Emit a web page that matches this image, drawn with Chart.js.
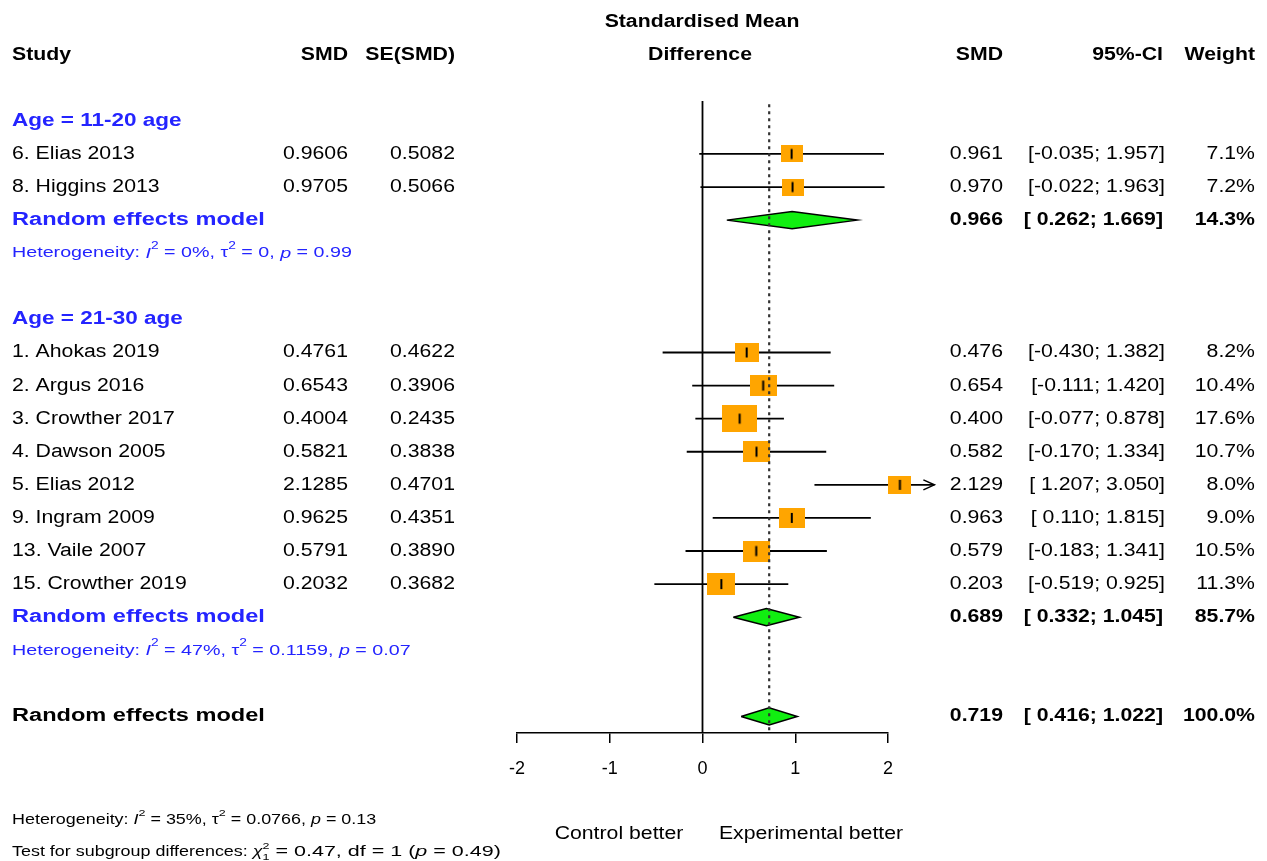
<!DOCTYPE html>
<html>
<head>
<meta charset="utf-8">
<script src="https://cdn.jsdelivr.net/npm/chart.js@4.4.1/dist/chart.umd.min.js"></script>
<style>
  html, body { margin: 0; padding: 0; background: #fff; }
  #wrap { width: 1267px; height: 861px; }
</style>
</head>
<body>
<div id="wrap"><canvas id="forest" width="1267" height="861"></canvas></div>
<script>
// study data
const groupNames = ['Age = 11-20 age', 'Age = 21-30 age'];
const studyGroup = [0, 0, 1, 1, 1, 1, 1, 1, 1, 1];
const studies = ['6. Elias 2013', '8. Higgins 2013', '1. Ahokas 2019', '2. Argus 2016', '3. Crowther 2017',
                 '4. Dawson 2005', '5. Elias 2012', '9. Ingram 2009', '13. Vaile 2007', '15. Crowther 2019'];
const smd = [0.9606, 0.9705, 0.4761, 0.6543, 0.4004, 0.5821, 2.1285, 0.9625, 0.5791, 0.2032];
const seSmd = [0.5082, 0.5066, 0.4622, 0.3906, 0.2435, 0.3838, 0.4701, 0.4351, 0.3890, 0.3682];
const smdRounded = [0.961, 0.970, 0.476, 0.654, 0.400, 0.582, 2.129, 0.963, 0.579, 0.203];
const ciLow = [-0.035, -0.022, -0.430, -0.111, -0.077, -0.170, 1.207, 0.110, -0.183, -0.519];
const ciHigh = [1.957, 1.963, 1.382, 1.420, 0.878, 1.334, 3.050, 1.815, 1.341, 0.925];
const weights = [7.1, 7.2, 8.2, 10.4, 17.6, 10.7, 8.0, 9.0, 10.5, 11.3];

// subgroup pooled results
const groupSmd = [0.966, 0.689];
const groupLow = [0.262, 0.332];
const groupHigh = [1.669, 1.045];
const groupWeight = [14.3, 85.7];
const groupI2 = ['0%', '47%'];
const groupTau2 = ['0', '0.1159'];
const groupP = ['0.99', '0.07'];

// overall
const overallSmd = 0.719, overallLow = 0.416, overallHigh = 1.022, overallWeight = 100.0;
const overallI2 = '35%', overallTau2 = '0.0766', overallP = '0.13';
const subgroupChi2 = '0.47', subgroupDf = '1', subgroupP = '0.49';

const xTicks = [-2, -1, 0, 1, 2];
const xLimit = 2.5;

// row layout
const studyRow = [], groupRow = [], labelRow = [], hetRow = [];
let r = 2;
groupNames.forEach((g, gi) => {
  labelRow[gi] = r++;
  studies.forEach((s, i) => { if (studyGroup[i] === gi) studyRow[i] = r++; });
  groupRow[gi] = r++;
  hetRow[gi] = r++;
  r++;
});
const overallRow = r;
const topRow = 1.4;
const axisRow = overallRow + 0.5;

const FONT = '"Liberation Sans", Arial, sans-serif';
const SX = 1.18;
const BLUE = '#2424ff';

function box(w) {
  const h = Math.round(6.5 * Math.sqrt(w));
  const c = document.createElement('canvas');
  c.width = Math.round(h * 1.28);
  c.height = h;
  const g = c.getContext('2d');
  g.fillStyle = '#ffa500';
  g.fillRect(0, 0, c.width, c.height);
  g.fillStyle = '#000';
  g.fillRect(c.width / 2 - 1, h / 2 - 5, 2, 10);
  return c;
}
const boxes = weights.map(box);

function diamond(est, lo, hi, row) {
  const d = 0.26;
  return [{x: lo, y: row}, {x: est, y: row - d}, {x: hi, y: row}, {x: est, y: row + d}, {x: lo, y: row}];
}

const datasets = [];
// dotted line at overall estimate (on top)
datasets.push({
  data: [{x: overallSmd, y: topRow + 0.1}, {x: overallSmd, y: axisRow}],
  showLine: true, borderColor: '#333', borderWidth: 2.2, borderDash: [3, 4], pointRadius: 0, clip: false
});
// study squares
datasets.push({
  data: smd.map((v, i) => ({x: v, y: studyRow[i]})),
  pointStyle: ctx => boxes[ctx.dataIndex], pointRadius: 20, clip: false
});
// diamonds
groupSmd.forEach((v, gi) => {
  datasets.push({
    data: diamond(v, groupLow[gi], groupHigh[gi], groupRow[gi]),
    showLine: true, fill: 'shape', backgroundColor: '#11ee11', borderColor: '#000',
    borderWidth: 1.5, pointRadius: 0, tension: 0, clip: false
  });
});
datasets.push({
  data: diamond(overallSmd, overallLow, overallHigh, overallRow),
  showLine: true, fill: 'shape', backgroundColor: '#11ee11', borderColor: '#000',
  borderWidth: 1.5, pointRadius: 0, tension: 0, clip: false
});
// confidence intervals
smd.forEach((v, i) => {
  datasets.push({
    data: [{x: ciLow[i], y: studyRow[i]}, {x: Math.min(ciHigh[i], xLimit), y: studyRow[i]}],
    showLine: true, borderColor: '#000', borderWidth: 1.8, pointRadius: 0, clip: false
  });
});
// line of no effect
datasets.push({
  data: [{x: 0, y: topRow}, {x: 0, y: axisRow}],
  showLine: true, borderColor: '#000', borderWidth: 1.8, pointRadius: 0, clip: false
});

function txt(ctx, s, x, y, o = {}) {
  ctx.save();
  ctx.translate(x, y);
  ctx.scale(o.sx || SX, 1);
  ctx.font = (o.bold ? 'bold ' : '') + (o.size || 18) + 'px ' + FONT;
  ctx.fillStyle = o.color || '#000';
  ctx.textAlign = o.align || 'left';
  ctx.textBaseline = 'middle';
  ctx.fillText(s, 0, 0);
  ctx.restore();
}

function rich(ctx, parts, x, y, size, color, sx) {
  ctx.save();
  ctx.translate(x, y);
  ctx.scale(sx, 1);
  ctx.fillStyle = color;
  ctx.textBaseline = 'middle';
  ctx.textAlign = 'left';
  let cx = 0;
  parts.forEach(p => {
    const f = (p.sup || p.sub) ? size * 0.7 : size;
    const k = p.k || 1;
    ctx.font = (p.it ? 'italic ' : '') + f + 'px ' + FONT;
    const dy = p.sup ? -size * 0.45 : (p.sub ? size * 0.4 : 0);
    ctx.save();
    ctx.translate(cx, 0);
    ctx.scale(k, 1);
    ctx.fillText(p.t, 0, dy);
    ctx.restore();
    if (!p.stack) cx += ctx.measureText(p.t).width * k;
  });
  ctx.restore();
}

function hetParts(i2, tau2, p) {
  return [{t: 'Heterogeneity: '}, {t: 'I', it: true}, {t: '2', sup: true}, {t: ' = ' + i2 + ', '},
          {t: 'τ'}, {t: '2', sup: true}, {t: ' = ' + tau2 + ', '}, {t: 'p', it: true}, {t: ' = ' + p}];
}

const ciText = (lo, hi) => '[' + (lo < 0 ? lo.toFixed(3) : ' ' + lo.toFixed(3)) + '; ' + hi.toFixed(3) + ']';

const forestText = {
  id: 'forestText',
  afterDatasetsDraw(chart) {
    const ctx = chart.ctx;
    const xs = chart.scales.x, ys = chart.scales.y;
    const Y = row => ys.getPixelForValue(row);

    // arrows for clipped intervals
    smd.forEach((v, i) => {
      if (ciHigh[i] > xLimit) {
        const tx = xs.getPixelForValue(xLimit), ty = Y(studyRow[i]);
        ctx.save();
        ctx.strokeStyle = '#000';
        ctx.lineWidth = 1.5;
        ctx.beginPath();
        ctx.moveTo(tx - 11, ty - 5);
        ctx.lineTo(tx, ty);
        ctx.lineTo(tx - 11, ty + 5);
        ctx.stroke();
        ctx.restore();
      }
    });

    // headers
    txt(ctx, 'Standardised Mean', 702, Y(-1.0), {bold: true, align: 'center'});
    txt(ctx, 'Study', 12, Y(0), {bold: true});
    txt(ctx, 'SMD', 348, Y(0), {bold: true, align: 'right'});
    txt(ctx, 'SE(SMD)', 455, Y(0), {bold: true, align: 'right'});
    txt(ctx, 'Difference', 700, Y(0), {bold: true, align: 'center'});
    txt(ctx, 'SMD', 1003, Y(0), {bold: true, align: 'right'});
    txt(ctx, '95%-CI', 1163, Y(0), {bold: true, align: 'right'});
    txt(ctx, 'Weight', 1255, Y(0), {bold: true, align: 'right'});

    // studies
    studies.forEach((s, i) => {
      const y = Y(studyRow[i]);
      txt(ctx, s, 12, y);
      txt(ctx, smd[i].toFixed(4), 348, y, {align: 'right'});
      txt(ctx, seSmd[i].toFixed(4), 455, y, {align: 'right'});
      txt(ctx, smdRounded[i].toFixed(3), 1003, y, {align: 'right'});
      txt(ctx, ciText(ciLow[i], ciHigh[i]), 1165, y, {align: 'right'});
      txt(ctx, weights[i].toFixed(1) + '%', 1255, y, {align: 'right'});
    });

    // subgroups
    groupNames.forEach((g, gi) => {
      txt(ctx, g, 12, Y(labelRow[gi]), {bold: true, color: BLUE, sx: 1.25});
      const y = Y(groupRow[gi]);
      txt(ctx, 'Random effects model', 12, y, {bold: true, color: BLUE, sx: 1.31});
      txt(ctx, groupSmd[gi].toFixed(3), 1003, y, {bold: true, align: 'right'});
      txt(ctx, ciText(groupLow[gi], groupHigh[gi]), 1163, y, {bold: true, align: 'right'});
      txt(ctx, groupWeight[gi].toFixed(1) + '%', 1255, y, {bold: true, align: 'right'});
      rich(ctx, hetParts(groupI2[gi], groupTau2[gi], groupP[gi]), 12, Y(hetRow[gi]), 15.5, BLUE, 1.27);
    });

    // overall
    const yo = Y(overallRow);
    txt(ctx, 'Random effects model', 12, yo, {bold: true, sx: 1.31});
    txt(ctx, overallSmd.toFixed(3), 1003, yo, {bold: true, align: 'right'});
    txt(ctx, ciText(overallLow, overallHigh), 1163, yo, {bold: true, align: 'right'});
    txt(ctx, overallWeight.toFixed(1) + '%', 1255, yo, {bold: true, align: 'right'});

    rich(ctx, hetParts(overallI2, overallTau2, overallP), 12, Y(overallRow + 3.13), 14, '#000', 1.28);
    rich(ctx, [{t: 'Test for subgroup differences: '}, {t: 'χ', it: true}, {t: '2', sup: true, stack: true},
               {t: '1', sub: true}, {t: ' = ' + subgroupChi2 + ', df = ' + subgroupDf + ' (', k: 1.2},
               {t: 'p', it: true, k: 1.2}, {t: ' = ' + subgroupP + ')', k: 1.2}],
         12, Y(overallRow + 4.1), 14, '#000', 1.28);

    txt(ctx, 'Control better', 619, Y(overallRow + 3.55), {align: 'center'});
    txt(ctx, 'Experimental better', 811, Y(overallRow + 3.55), {align: 'center'});
  }
};

new Chart(document.getElementById('forest').getContext('2d'), {
  type: 'scatter',
  data: { datasets: datasets },
  options: {
    responsive: false,
    animation: false,
    events: [],
    layout: { padding: { left: 517, right: 379, top: 101, bottom: 78 } },
    scales: {
      x: {
        type: 'linear',
        min: -2,
        max: 2,
        afterBuildTicks: scale => { scale.ticks = xTicks.map(v => ({value: v})); },
        afterFit: scale => { scale.height = 50; },
        ticks: { color: '#000', font: { family: FONT, size: 18 }, padding: 15 },
        grid: { display: true, drawOnChartArea: false, drawTicks: true, tickLength: 10, color: '#000', lineWidth: 1.5 },
        border: { display: true, color: '#000', width: 1.5 }
      },
      y: {
        type: 'linear',
        reverse: true,
        min: topRow,
        max: axisRow,
        display: false
      }
    },
    plugins: {
      legend: { display: false },
      tooltip: { enabled: false }
    }
  },
  plugins: [forestText]
});
</script>
</body>
</html>
